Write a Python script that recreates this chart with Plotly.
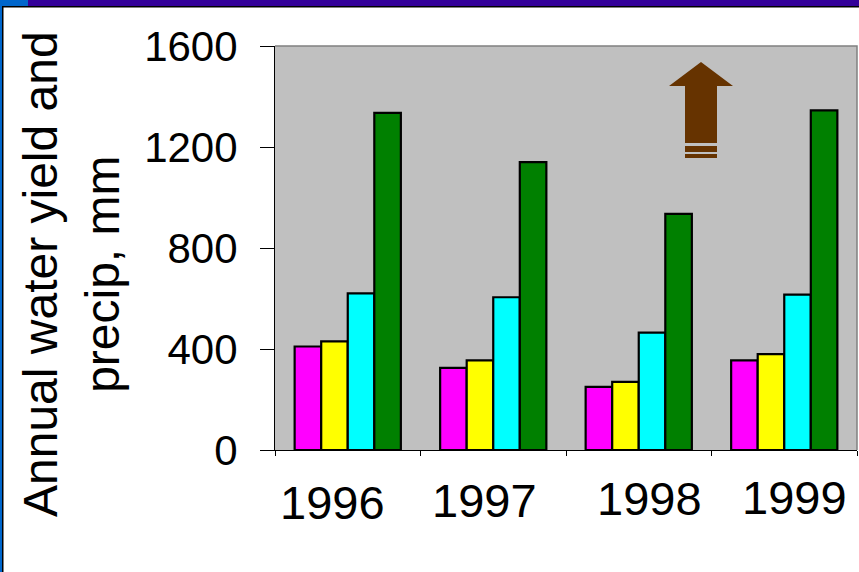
import plotly.graph_objects as go

# Water balance by year (mm)
years = ["1996", "1997", "1998", "1999"]
series_a = [410, 325, 250, 355]      # magenta
series_b = [430, 355, 270, 380]      # yellow
series_c = [620, 605, 465, 615]      # cyan
series_d = [1335, 1140, 935, 1345]   # green (precipitation)
y_ticks = [0, 400, 800, 1200, 1600]

series = [series_a, series_b, series_c, series_d]
colors = ["#FF00FF", "#FFFF00", "#00FFFF", "#008000"]

# Figure geometry (pixels)
FIG_W, FIG_H = 859, 572
M_L, M_R, M_T, M_B = 275, 2, 46, 122
PLOT_W = FIG_W - M_L - M_R
PLOT_H = FIG_H - M_T - M_B


def pxx(x):
    return (x - M_L) / PLOT_W


def pxy(y):
    return (M_T + PLOT_H - y) / PLOT_H


FONT = "Arial, Liberation Sans, sans-serif"

fig = go.Figure()
for vals, col in zip(series, colors):
    fig.add_trace(go.Bar(
        x=years, y=vals,
        marker=dict(color=col, line=dict(color="black", width=2.2)),
        showlegend=False,
    ))

shapes = []
# slide frame: coloured band on top, strip on the left
shapes.append(dict(type="rect", xref="paper", yref="paper", layer="above",
                   x0=pxx(0), x1=pxx(FIG_W), y0=pxy(0), y1=pxy(6),
                   fillcolor="#330099", line=dict(width=0)))
shapes.append(dict(type="rect", xref="paper", yref="paper", layer="above",
                   x0=pxx(0), x1=pxx(28), y0=pxy(0), y1=pxy(6),
                   fillcolor="#0066CC", line=dict(width=0)))
shapes.append(dict(type="rect", xref="paper", yref="paper", layer="above",
                   x0=pxx(0), x1=pxx(2), y0=pxy(0), y1=pxy(FIG_H),
                   fillcolor="#0066CC", line=dict(width=0)))
shapes.append(dict(type="rect", xref="paper", yref="paper", layer="above",
                   x0=pxx(2), x1=pxx(FIG_W), y0=pxy(6), y1=pxy(7.5),
                   fillcolor="black", line=dict(width=0)))
shapes.append(dict(type="rect", xref="paper", yref="paper", layer="above",
                   x0=pxx(2), x1=pxx(3.5), y0=pxy(6), y1=pxy(FIG_H),
                   fillcolor="black", line=dict(width=0)))

# plot area border (top / right)
shapes.append(dict(type="path", xref="paper", yref="paper", layer="below",
                   path="M 0 1 L 1 1 L 1 0",
                   line=dict(color="#808080", width=1.5)))

# upward arrow
arrow_pts = [(701, 62), (733, 86), (717, 86), (717, 143),
             (685, 143), (685, 86), (669, 86)]
path = "M " + " L ".join(f"{pxx(a):.5f} {pxy(b):.5f}" for a, b in arrow_pts) + " Z"
shapes.append(dict(type="path", xref="paper", yref="paper", path=path,
                   fillcolor="#663300", line=dict(width=0)))
for y0, y1 in [(146, 152), (154, 158)]:
    shapes.append(dict(type="rect", xref="paper", yref="paper",
                       x0=pxx(685), x1=pxx(717), y0=pxy(y1), y1=pxy(y0),
                       fillcolor="#663300", line=dict(width=0)))

# year labels under the groups
label_nudge = [(-15, -2), (-9, 0), (11, 2), (10, 3)]
annotations = []
for i, (yr, (dx, dy)) in enumerate(zip(years, label_nudge)):
    annotations.append(dict(x=i, xref="x", y=pxy(500), yref="paper",
                            text=yr, showarrow=False, xshift=dx, yshift=dy,
                            xanchor="center", yanchor="middle",
                            font=dict(family=FONT, size=47, color="black")))

# axis title
annotations.append(dict(x=pxx(71), xref="paper", y=pxy(274), yref="paper",
                        text="Annual water yield and<br>precip, mm",
                        textangle=-90, showarrow=False, align="center",
                        xanchor="center", yanchor="middle",
                        font=dict(family=FONT, size=48, color="black")))

fig.update_layout(
    width=FIG_W, height=FIG_H, autosize=False,
    margin=dict(l=M_L, r=M_R, t=M_T, b=M_B, pad=0),
    paper_bgcolor="white", plot_bgcolor="#C0C0C0",
    barmode="group", bargap=0.27, bargroupgap=0,
    shapes=shapes, annotations=annotations,
    font=dict(family=FONT, color="black"),
)
fig.update_xaxes(
    type="category", categoryorder="array", categoryarray=years,
    range=[-0.5, len(years) - 0.5],
    showticklabels=False, tickson="boundaries",
    ticks="outside", ticklen=5, tickcolor="black", tickwidth=1,
    showline=True, linecolor="black", linewidth=1, showgrid=False,
    zeroline=False,
)
fig.update_yaxes(
    range=[0, 1600], tickvals=y_ticks, ticktext=[str(v) for v in y_ticks],
    ticks="outside", ticklen=14, tickcolor="black", tickwidth=1,
    ticklabelstandoff=14,
    tickfont=dict(family=FONT, size=42, color="black"),
    showline=True, linecolor="black", linewidth=1, showgrid=False,
    zeroline=False,
)

fig.write_html("out.html")
